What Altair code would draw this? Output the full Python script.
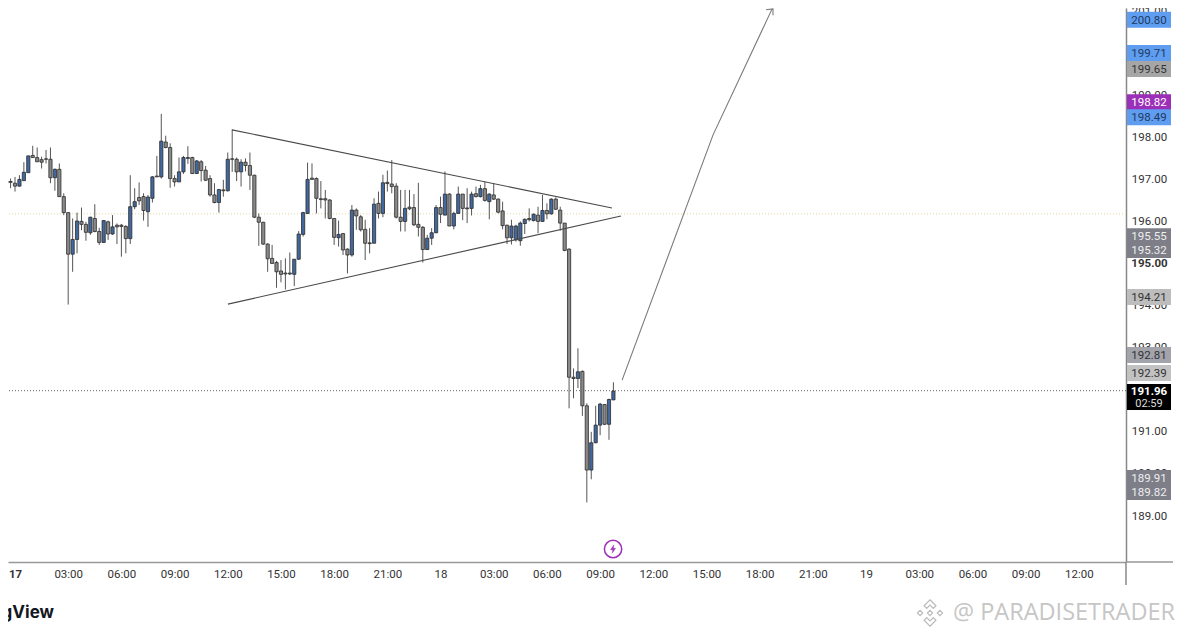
import json
import altair as alt
import pandas as pd

opens = [196.59,196.90,196.94,196.90,196.83,196.96,197.15,197.56,197.51,197.46,197.48,197.47,197.03,197.23,196.58,196.20,195.21,195.56,195.99,195.92,195.72,196.06,195.75,195.49,195.98,195.69,195.90,195.90,195.87,195.58,196.34,196.56,196.58,196.22,196.54,197.07,197.05,197.88,197.75,197.01,196.93,197.17,197.51,197.51,197.13,197.41,197.21,197.01,196.62,196.44,196.74,196.72,197.48,197.47,197.17,197.40,197.32,197.09,196.09,195.97,195.45,195.11,195.01,194.81,194.76,194.76,194.73,195.09,195.68,196.18,197.02,197.01,
         196.53,196.53,196.50,196.06,195.60,195.70,195.33,195.19,196.26,196.10,195.80,195.48,195.47,196.42,196.18,196.92,196.88,196.83,196.09,195.99,196.33,196.32,195.92,195.85,195.32,195.59,195.72,196.32,196.14,196.64,195.88,196.18,196.64,196.31,196.30,196.65,196.58,196.77,196.46,196.62,196.52,196.24,195.90,195.60,195.55,195.53,195.94,196.06,196.01,196.14,195.99,196.25,196.17,196.52,196.26,195.95,195.33,
         192.28,192.25,192.42,191.60,190.07,190.72,191.14,191.63,191.16,191.74]
highs = [197.01,197.00,197.01,197.05,197.09,197.40,197.55,197.79,197.75,197.53,197.69,197.75,197.25,197.37,196.66,196.20,196.06,196.20,196.32,195.98,196.10,196.40,195.84,196.02,196.01,196.14,195.94,195.93,195.90,197.09,196.78,196.92,196.66,196.62,197.07,197.55,198.55,198.03,197.85,197.09,197.51,197.55,197.78,197.53,197.45,197.45,197.31,197.09,196.90,196.75,196.98,197.63,198.18,197.51,197.47,197.49,197.63,197.10,196.18,195.98,195.47,195.43,195.05,195.07,195.11,195.25,195.09,195.76,196.22,197.39,197.37,197.04,
         196.95,196.74,196.52,196.06,196.01,195.71,195.35,196.38,196.30,196.14,196.03,195.83,196.54,196.70,197.10,197.20,197.45,196.90,196.74,196.74,196.74,196.64,196.91,195.88,195.67,195.83,196.38,196.58,197.18,196.66,196.22,196.82,196.64,196.78,196.70,196.82,196.86,196.94,196.66,196.90,196.54,196.46,195.91,196.03,195.91,195.99,196.06,196.30,196.18,196.34,196.62,196.42,196.54,196.56,196.34,195.95,195.35,
         192.49,192.97,192.44,191.66,190.98,191.60,191.67,191.64,191.77,192.16]
lows = [196.59,196.63,196.78,196.70,196.82,196.96,197.15,197.51,197.41,197.25,197.37,196.90,196.72,196.58,196.14,194.01,194.79,195.23,195.78,195.53,195.67,195.73,195.43,195.48,195.55,195.67,195.45,195.15,195.23,195.45,196.28,196.38,196.01,195.86,196.44,197.05,197.01,197.73,196.79,196.82,196.93,197.12,197.36,197.12,197.12,196.94,196.95,196.58,196.42,196.20,196.58,196.70,197.17,196.95,196.82,197.18,196.74,196.07,195.41,195.43,194.79,194.98,194.41,194.54,194.37,194.71,194.45,195.07,195.63,196.17,196.99,196.18,
        196.30,196.06,196.04,195.43,195.39,195.19,194.75,195.15,195.79,195.75,195.07,195.23,195.47,196.06,196.09,196.70,196.66,196.06,195.75,195.75,196.26,195.88,195.63,195.01,195.31,195.43,195.71,195.95,196.14,195.88,195.80,196.17,196.02,195.95,196.13,196.56,196.56,196.46,196.04,196.50,196.18,195.80,195.45,195.44,195.51,195.41,195.69,195.99,195.99,195.71,195.98,196.04,196.15,196.26,195.77,195.28,191.54,
        191.78,192.02,191.36,189.30,189.85,190.71,190.90,191.14,190.79,191.74]
closes = [196.90,196.94,196.92,196.83,196.99,197.16,197.55,197.51,197.41,197.40,197.47,197.03,197.23,196.58,196.20,195.21,195.56,196.00,195.92,195.73,196.09,195.75,195.49,196.01,195.69,195.86,195.86,195.87,195.58,196.34,196.46,196.48,196.25,196.57,197.05,197.05,197.90,197.75,197.01,196.93,197.17,197.51,197.49,197.13,197.43,197.20,196.97,196.62,196.44,196.75,196.72,197.47,197.47,197.17,197.40,197.32,197.09,196.09,195.97,195.45,195.10,194.99,194.79,194.73,194.74,194.74,195.09,195.69,196.20,196.99,196.99,196.54,
          196.51,196.50,196.06,195.61,195.68,195.31,195.19,196.26,196.12,195.79,195.47,195.46,196.40,196.18,196.91,196.89,196.82,196.09,195.99,196.30,196.29,195.91,195.85,195.32,195.59,195.72,196.32,196.16,196.64,195.88,196.18,196.64,196.30,196.29,196.64,196.58,196.77,196.49,196.64,196.52,196.21,195.89,195.60,195.88,195.88,195.95,196.04,196.03,196.16,195.99,196.25,196.17,196.52,196.28,195.95,195.30,192.28,
          192.25,192.41,191.60,190.07,190.72,191.14,191.64,191.16,191.75,191.95]

x_tick_hours = list(range(0, 63, 3))
x_tick_labels = ["17","03:00","06:00","09:00","12:00","15:00","18:00","21:00",
                 "18","03:00","06:00","09:00","12:00","15:00","18:00","21:00",
                 "19","03:00","06:00","09:00","12:00"]
y_ticks = [189,190,191,192,193,194,195,196,197,198,199,200,201]

tag_places = [200.79,200.00,199.62,198.83,198.47,195.64,195.31,194.19,192.81,192.38,189.88,189.55]
tag_texts = ["200.80","199.71","199.65","198.82","198.49","195.55","195.32","194.21","192.81","192.39","189.91","189.82"]
tag_fills = ["#5f9df0","#5f9df0","#a6a6a6","#9c2fb8","#5f9df0","#7d7e88","#7d7e88","#bdbdbd","#a2a3ab","#c2c2c2","#7d7e88","#7d7e88"]
tag_inks = ["#1f3a5f","#1f3a5f","#333333","#ffffff","#1f3a5f","#eeeeee","#eeeeee","#333333","#333333","#333333","#eeeeee","#eeeeee"]

line_names = ["upper","upper","lower","lower","arrow","arrow","arrow","head","head","head"]
line_hours = [12.24,33.67,12.01,34.18,34.24,39.37,42.70,42.36,42.75,42.75]
line_prices = [198.17,196.31,194.02,196.12,192.21,198.05,201.05,201.03,201.05,200.90]
line_colors = ["#4a4a4a","#4a4a4a","#4a4a4a","#4a4a4a","#7a7a7a","#7a7a7a","#7a7a7a","#7a7a7a","#7a7a7a","#7a7a7a"]

BOLT = "M0.2,-1 L-0.6,0.2 L-0.05,0.2 L-0.2,1 L0.6,-0.2 L0.05,-0.2 Z"
DIAMOND = ("M0,-1 L0.45,-0.55 L0.25,-0.35 L0,-0.6 L-0.25,-0.35 L-0.45,-0.55 Z "
           "M0,-0.2 L0.2,0 L0,0.2 L-0.2,0 Z M-0.75,-0.2 L-0.55,0 L-0.75,0.2 L-0.95,0 Z "
           "M0.75,-0.2 L0.95,0 L0.75,0.2 L0.55,0 Z "
           "M0,1 L0.45,0.55 L0.25,0.35 L0,0.6 L-0.25,0.35 L-0.45,0.55 Z")

candles = pd.DataFrame({
    "h": [(i - 3) * 0.25 for i in range(len(opens))],
    "open": opens, "high": highs, "low": lows, "close": closes,
})
candles["body"] = ["#41689f" if c >= o else "#8a8a8a" for o, c in zip(opens, closes)]

tags = pd.DataFrame({"p": tag_places, "text": tag_texts, "fill": tag_fills, "ink": tag_inks})
tags["top"] = tags["p"] + 0.19
tags["bot"] = tags["p"] - 0.19
lines = pd.DataFrame({"name": line_names, "h": line_hours, "p": line_prices, "color": line_colors})
lines["order"] = range(len(lines))

FONT = "Roboto"
xs = alt.Scale(domain=[-0.395, 62.66], nice=False, zero=False, padding=0)
ys = alt.Scale(domain=[187.881, 201.071], nice=False, zero=False, padding=0)
xaxis = alt.Axis(values=x_tick_hours, labelExpr="%s[datum.value/3]" % json.dumps(x_tick_labels),
                 title=None, grid=False, tickSize=0, domainColor="#999999", domainWidth=1.5,
                 labelColor="#333333", labelFont=FONT, labelFontSize=11.5, labelPadding=6, labelFlush=False,
                 labelOverlap=False,
                 labelFontWeight={"expr": "datum.value==0 ? 'bold' : 'normal'"})
yaxis = alt.Axis(values=y_ticks, orient="right", format=".2f", title=None, grid=False, tickSize=0,
                 domainColor="#888888", domainWidth=1.5, labelColor="#333333", labelFont=FONT,
                 labelFontSize=11.5, labelAlign="center", labelPadding=23, labelOverlap=False, labelOffset=1,
                 labelFontWeight={"expr": "datum.value==195 ? 'bold' : 'normal'"})
X = alt.X("h:Q", scale=xs, axis=xaxis)
Y = lambda f: alt.Y(f, scale=ys, axis=yaxis)

hlines = alt.Chart(pd.DataFrame({"p": [196.17]})).mark_rule(color="#e0d8a0", strokeDash=[1, 2], strokeWidth=1).encode(y=Y("p:Q"))
plast = alt.Chart(pd.DataFrame({"p": [191.96]})).mark_rule(color="#666666", strokeDash=[1, 2], strokeWidth=1).encode(y=Y("p:Q"))

wicks = alt.Chart(candles).mark_rule(color="#555555", strokeWidth=1).encode(x=X, y=Y("low:Q"), y2="high:Q")
bodies = alt.Chart(candles).mark_bar(size=3.2, orient="vertical", stroke="#2b2b2b", strokeWidth=0.8).encode(
    x=X, y=Y("open:Q"), y2="close:Q", fill=alt.Fill("body:N", scale=None))

trend = alt.Chart(lines).mark_line(strokeWidth=1.1, clip=False).encode(
    x=X, y=Y("p:Q"), detail="name:N", order="order:Q", color=alt.Color("color:N", scale=None))

bolt_pos = pd.DataFrame({"h": [33.73], "p": [188.19]})
ring = alt.Chart(bolt_pos).mark_point(shape="circle", size=300, stroke="#9c2fb8", strokeWidth=1.5, filled=False, opacity=1).encode(x=X, y=Y("p:Q"))
bolt = alt.Chart(bolt_pos).mark_point(shape=BOLT, size=70, fill="#9c2fb8", stroke="#9c2fb8", strokeWidth=0.4, filled=True, opacity=1).encode(x=X, y=Y("p:Q"))

v_ext = alt.Chart(pd.DataFrame({"a": [0]})).mark_rule(color="#888888", strokeWidth=1.5).encode(
    x=alt.value(1118), y=alt.value(554), y2=alt.value(577))
h_ext = alt.Chart(pd.DataFrame({"a": [0]})).mark_rule(color="#999999", strokeWidth=1.5).encode(
    x=alt.value(1118), x2=alt.value(1165), y=alt.value(554))

tag_rects = alt.Chart(tags).mark_rect().encode(
    x=alt.value(1119), x2=alt.value(1163), y=Y("top:Q"), y2="bot:Q", fill=alt.Fill("fill:N", scale=None))
tag_text = alt.Chart(tags).mark_text(font=FONT, fontSize=11.5, align="center", baseline="middle", dy=1).encode(
    x=alt.value(1141), y=Y("p:Q"), text="text:N", color=alt.Color("ink:N", scale=None))

last_df = pd.DataFrame({"top": [192.12], "bot": [191.50]})
last_rect = alt.Chart(last_df).mark_rect(fill="#000000").encode(
    x=alt.value(1119), x2=alt.value(1163), y=Y("top:Q"), y2="bot:Q")
last_txt = alt.Chart(pd.DataFrame({"p": [191.96], "text": ["191.96"]})).mark_text(
    font=FONT, fontSize=11.5, fontWeight="bold", color="#ffffff", align="center", baseline="middle", dy=1).encode(
    x=alt.value(1141), y=Y("p:Q"), text="text:N")
last_cd = alt.Chart(pd.DataFrame({"p": [191.66], "text": ["02:59"]})).mark_text(
    font=FONT, fontSize=11, color="#dddddd", align="center", baseline="middle", dy=1).encode(
    x=alt.value(1141), y=Y("p:Q"), text="text:N")

brand = alt.Chart(pd.DataFrame({"text": ["gView"]})).mark_text(
    font="Inter", fontSize=17, fontWeight="bold", color="#131722", align="right", baseline="middle").encode(
    x=alt.value(46), y=alt.value(605), text="text:N")
mark_wm = alt.Chart(pd.DataFrame({"text": ["@ PARADISETRADER"]})).mark_text(
    font="Open Sans", fontSize=23.5, color="#c6c6c6", align="right", baseline="middle").encode(
    x=alt.value(1167), y=alt.value(605), text="text:N")
logo = alt.Chart(pd.DataFrame({"a": [0]})).mark_point(
    shape=DIAMOND, size=700, stroke="#bbbbbb", strokeWidth=1.2, filled=False, opacity=1).encode(
    x=alt.value(922), y=alt.value(605))

chart = alt.layer(hlines, plast, wicks, bodies, trend, ring, bolt, v_ext, h_ext,
                  tag_rects, tag_text, last_rect, last_txt, last_cd, brand, mark_wm, logo).properties(
    width=1118, height=554,
    autosize=alt.AutoSizeParams(type="none"),
    padding={"left": 0, "top": 0, "right": 49, "bottom": 69},
    background="#ffffff",
).configure_view(stroke=None)

chart.save("out.html", embed_options={"renderer": "svg", "actions": False})
